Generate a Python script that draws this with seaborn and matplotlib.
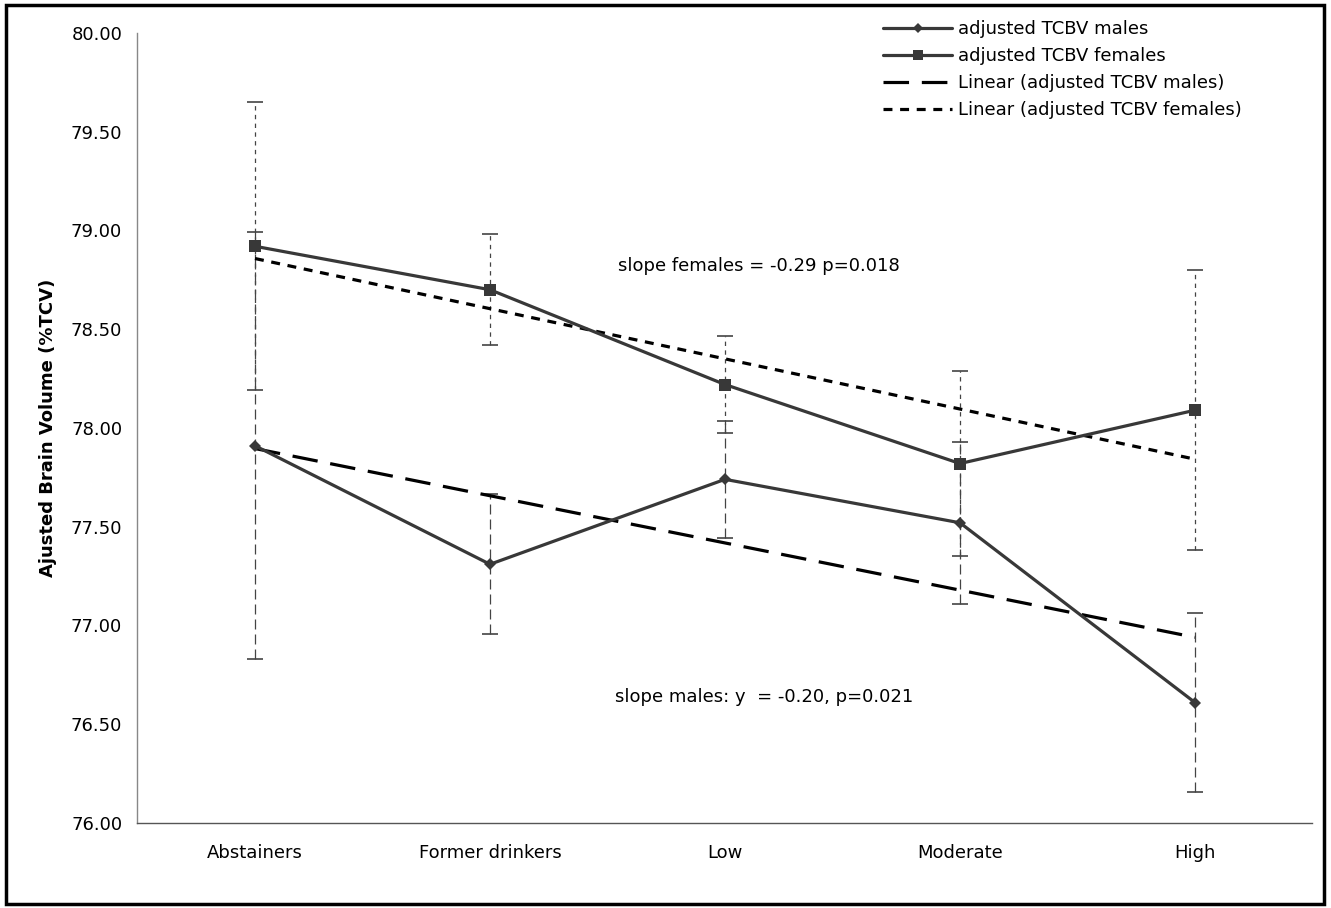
import numpy as np
import matplotlib
matplotlib.use("Agg")
import matplotlib.pyplot as plt
import seaborn as sns
from matplotlib.patches import Rectangle
from matplotlib.lines import Line2D

# data
categories = ["Abstainers", "Former drinkers", "Low", "Moderate", "High"]
males = [77.91, 77.31, 77.74, 77.52, 76.61]
males_err = [1.08, 0.355, 0.295, 0.41, 0.455]
females = [78.92, 78.70, 78.22, 77.82, 78.09]
females_err = [0.73, 0.28, 0.245, 0.47, 0.71]

sns.set_style("white")
plt.rcParams["font.family"] = ["DejaVu Sans"]
plt.rcParams["text.color"] = "black"
plt.rcParams["xtick.labelcolor"] = "black"
plt.rcParams["ytick.labelcolor"] = "black"
plt.rcParams["axes.labelcolor"] = "black"

LINE = "#383838"
FS = 13

fig = plt.figure(figsize=(13.31, 9.08), dpi=100)
ax = fig.add_axes([0.1033, 0.0936, 0.8828, 0.8701])

xpos = np.arange(len(categories))

# error bars
eb_m = ax.errorbar(xpos, males, yerr=males_err, fmt="none", ecolor="#444444",
                   elinewidth=0.9, capsize=6, capthick=1.2, zorder=2)
eb_m[2][0].set_linestyle((0, (8, 4)))
eb_f = ax.errorbar(xpos, females, yerr=females_err, fmt="none", ecolor="#444444",
                   elinewidth=0.9, capsize=6, capthick=1.2, zorder=2)
eb_f[2][0].set_linestyle((0, (3.5, 3.5)))

# linear trends
sns.regplot(x=xpos, y=males, scatter=False, ci=None, truncate=True, ax=ax,
            line_kws=dict(color="black", lw=2.3, dashes=(8, 4), zorder=3))
sns.regplot(x=xpos, y=females, scatter=False, ci=None, truncate=True, ax=ax,
            line_kws=dict(color="black", lw=2.3, dashes=(2.8, 2.4), zorder=3))

# series
sns.lineplot(x=xpos, y=males, ax=ax, color=LINE, lw=2.3, marker="D",
             markersize=6, markeredgewidth=0, zorder=4)
sns.lineplot(x=xpos, y=females, ax=ax, color=LINE, lw=2.3, marker="s",
             markersize=8.5, markeredgewidth=0, zorder=4)

ax.set_xlim(-0.5, len(categories) - 0.5)
ax.set_ylim(76, 80)
ax.set_yticks(np.arange(76, 80.01, 0.5))
ax.set_yticklabels([f"{v:.2f}" for v in np.arange(76, 80.01, 0.5)], fontsize=FS)
ax.set_xticks(xpos)
ax.set_xticklabels(categories, fontsize=FS)
ax.set_xticks(np.arange(0.5, len(categories), 1.0), minor=True)
ax.tick_params(axis="x", which="major", length=0, pad=15)
ax.tick_params(axis="x", which="minor", length=6, width=1, color="#555555", direction="out")
ax.tick_params(axis="y", length=6, width=1, color="#888888", direction="out", pad=5)
ax.set_xlabel("")
ax.set_ylabel("Ajusted Brain Volume (%TCV)", fontsize=FS, fontweight="bold", labelpad=10)

for s in ["top", "right"]:
    ax.spines[s].set_visible(False)
ax.spines["left"].set_color("#888888")
ax.spines["bottom"].set_color("#555555")
ax.spines["left"].set_linewidth(1)
ax.spines["bottom"].set_linewidth(1)

ax.text(1.545, 78.82, "slope females = -0.29 p=0.018", fontsize=FS, va="center")
ax.text(1.53, 76.64, "slope males: y  = -0.20, p=0.021", fontsize=FS, va="center")

handles = [
    Line2D([], [], color=LINE, lw=2.3, marker="D", markersize=5, markeredgewidth=0),
    Line2D([], [], color=LINE, lw=2.3, marker="s", markersize=7.5, markeredgewidth=0),
    Line2D([], [], color="black", lw=2.3, dashes=(8, 4)),
    Line2D([], [], color="black", lw=2.3, dashes=(2.8, 2.4)),
]
labels = ["adjusted TCBV males", "adjusted TCBV females",
          "Linear (adjusted TCBV males)", "Linear (adjusted TCBV females)"]
fig.legend(handles, labels, loc="upper left", bbox_to_anchor=(0.6634, 0.978),
           frameon=False, fontsize=FS, handlelength=3.85, handletextpad=0.3,
           labelspacing=0.5, borderpad=0, borderaxespad=0)

# figure border
fig.patches.append(Rectangle((0.0045, 0.004), 0.9905, 0.991, transform=fig.transFigure,
                             fill=False, edgecolor="black", lw=2.5, zorder=10))

fig.savefig("out.png", dpi=100)
